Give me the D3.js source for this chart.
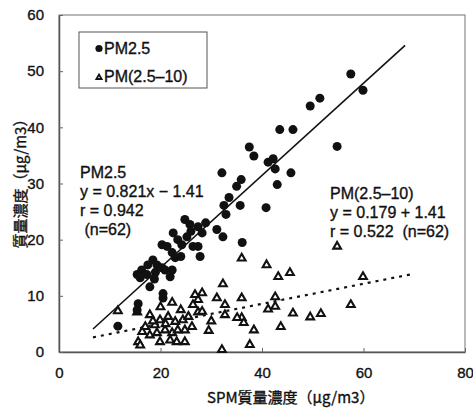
<!DOCTYPE html>
<html>
<head>
<meta charset="utf-8">
<script src="https://cdn.jsdelivr.net/npm/d3@7"></script>
<style>
  body { margin: 0; background: #fff; }
  svg text { font-family: "Liberation Sans", Arial, sans-serif; fill: #111; stroke: #111; stroke-width: 0.35px; }
</style>
</head>
<body>
<div id="chart"></div>
<script>
// PM2.5 vs SPM (x, y)
const pm25 = [
  [57.5, 49.5], [59.9, 46.6], [51.4, 45.2], [49.5, 43.8], [43.5, 39.6], [46.1, 39.6],
  [54.8, 36.6], [37.5, 36.5], [38.4, 34.9], [41.2, 33.8], [42.2, 34.4], [42.6, 32.6],
  [45.7, 31.9], [43.0, 29.8], [35.0, 29.5], [35.9, 30.7], [32.1, 31.9], [32.5, 26.1],
  [32.9, 24.5], [35.7, 26.1], [40.8, 25.7], [27.4, 22.3], [28.2, 21.2], [31.1, 21.8],
  [32.3, 20.5], [36.1, 19.5], [27.4, 18.8], [27.8, 17.0], [24.8, 23.6], [25.8, 22.7],
  [22.5, 21.2], [23.4, 20.0], [24.2, 19.1], [20.3, 19.1], [21.3, 18.8], [26.4, 18.8],
  [22.3, 17.7], [22.9, 16.8], [18.5, 16.4], [17.5, 15.5], [19.3, 15.5], [20.3, 15.0],
  [20.9, 14.6], [16.3, 14.6], [15.4, 13.8], [16.0, 13.2], [17.3, 13.8], [21.9, 13.4],
  [22.3, 14.6], [17.9, 11.6], [20.5, 10.4], [20.5, 9.6], [15.6, 8.6], [15.4, 7.5],
  [11.6, 4.6], [26.0, 21.5], [28.9, 23.0], [19.0, 14.2], [24.0, 17.0], [18.8, 13.0],
  [33.5, 27.5], [25.2, 20.5]
];

// PM(2.5-10) vs SPM (x, y)
const pmCoarse = [
  [54.8, 18.8], [36.0, 16.7], [40.9, 15.5], [43.2, 13.4], [45.5, 14.1], [59.9, 13.4],
  [36.0, 9.6], [42.6, 9.8], [42.6, 8.1], [41.2, 7.6], [46.1, 6.9], [49.5, 6.2],
  [51.6, 6.8], [57.5, 8.4], [36.0, 6.1], [36.4, 5.2], [38.4, 3.9], [43.7, 4.5],
  [37.6, 1.3], [32.1, 0.4], [32.3, 12.1], [28.2, 10.5], [31.1, 9.6], [32.7, 8.4],
  [27.4, 9.3], [27.4, 7.1], [28.2, 7.2], [32.7, 6.6], [35.1, 6.1], [11.6, 7.3],
  [15.4, 7.1], [22.3, 8.8], [26.8, 10.2], [26.4, 8.4], [17.9, 6.6], [19.9, 5.7],
  [21.5, 6.3], [22.9, 5.4], [24.4, 5.7], [26.2, 4.5], [18.9, 4.8], [16.4, 3.6],
  [17.9, 3.0], [19.3, 3.4], [20.9, 3.9], [22.3, 3.4], [23.4, 3.9], [24.8, 3.9],
  [15.6, 1.8], [16.0, 1.2], [19.9, 1.8], [21.9, 2.1], [23.2, 1.8], [24.8, 1.8],
  [21.0, 5.0], [25.5, 6.3], [30.0, 5.5], [20.0, 8.0], [24.0, 7.5], [18.5, 5.5],
  [29.5, 3.8], [17.0, 4.5]
];

// regression lines: [slope, intercept, xStart, xEnd]
const fitPm25 = [0.821, -1.41, 6.7, 68.2];
const fitCoarse = [0.179, 1.41, 6.7, 69.2];

const xTicks = [0, 20, 40, 60, 80];
const yTicks = [0, 10, 20, 30, 40, 50, 60];

const labelPm25 = ["PM2.5", "y = 0.821x \u2212 1.41", "r = 0.942", " (n=62)"];
const labelCoarse = ["PM(2.5\u201310)", "y = 0.179 + 1.41", "r = 0.522\u00a0\u00a0(n=62)"];
const legendNames = ["PM2.5", "PM(2.5\u201310)"];

const W = 473, H = 410;
const svg = d3.select("#chart").append("svg")
    .attr("width", W)
    .attr("height", H);

const x = d3.scaleLinear().domain([0, 80]).range([59, 465]);
const y = d3.scaleLinear().domain([0, 60]).range([352, 15]);

// frame
svg.append("rect")
    .attr("x", x(0)).attr("y", y(60))
    .attr("width", x(80) - x(0)).attr("height", y(0) - y(60))
    .attr("fill", "none")
    .attr("stroke", "#8a8a8a")
    .attr("stroke-width", 1.2);

const axisX = svg.append("g")
    .attr("transform", "translate(0," + y(0) + ")")
    .call(d3.axisBottom(x).tickValues(xTicks).tickSize(-4).tickPadding(15).tickSizeOuter(0));
const axisY = svg.append("g")
    .attr("transform", "translate(" + x(0) + ",0)")
    .call(d3.axisLeft(y).tickValues(yTicks).tickSize(-4).tickPadding(15).tickSizeOuter(0));

[axisX, axisY].forEach(a => {
    a.select(".domain").attr("stroke", "#555").attr("stroke-width", 1.5);
    a.selectAll("line").attr("stroke", "#666");
    a.selectAll("text")
        .style("font-size", "15px")
        .style("font-family", "'Liberation Sans', Arial, sans-serif")
        .attr("fill", "#111");
});

// regression lines
function fitLine(f) {
    return [[f[2], f[0] * f[2] + f[1]], [f[3], f[0] * f[3] + f[1]]];
}
const line = d3.line().x(d => x(d[0])).y(d => y(d[1]));

svg.append("path")
    .datum(fitLine(fitPm25))
    .attr("fill", "none")
    .attr("stroke", "#111")
    .attr("stroke-width", 1.6)
    .attr("d", line);

svg.append("path")
    .datum(fitLine(fitCoarse))
    .attr("fill", "none")
    .attr("stroke", "#111")
    .attr("stroke-width", 2.2)
    .attr("stroke-dasharray", "3,5")
    .attr("d", line);

// markers
const tri = d3.symbol().type(d3.symbolTriangle).size(26);
svg.append("g")
    .selectAll("path")
    .data(pmCoarse)
    .enter().append("path")
    .attr("transform", d => "translate(" + x(d[0]) + "," + y(d[1]) + ")")
    .attr("d", tri)
    .attr("fill", "#fff")
    .attr("stroke", "#111")
    .attr("stroke-width", 2.1);

svg.append("g")
    .selectAll("circle")
    .data(pm25)
    .enter().append("circle")
    .attr("cx", d => x(d[0]))
    .attr("cy", d => y(d[1]))
    .attr("r", 4.5)
    .attr("fill", "#111");

// legend
const lg = svg.append("g");
lg.append("rect")
    .attr("x", 79).attr("y", 32)
    .attr("width", 128).attr("height", 56)
    .attr("fill", "#fff")
    .attr("stroke", "#555")
    .attr("stroke-width", 1);
lg.append("circle").attr("cx", 99).attr("cy", 48.5).attr("r", 3.6).attr("fill", "#111");
lg.append("path")
    .attr("transform", "translate(99,77.5)")
    .attr("d", d3.symbol().type(d3.symbolTriangle).size(12))
    .attr("fill", "#fff")
    .attr("stroke", "#111")
    .attr("stroke-width", 1.8);
lg.selectAll("text")
    .data(legendNames)
    .enter().append("text")
    .attr("x", 104)
    .attr("y", (d, i) => 53.5 + i * 28.5)
    .style("font-size", "16px")
    .text(d => d);

// annotations
svg.append("g").selectAll("text")
    .data(labelPm25)
    .enter().append("text")
    .attr("x", 80)
    .attr("y", (d, i) => 178 + i * 19)
    .style("font-size", "16px")
    .attr("xml:space", "preserve")
    .text(d => d);

svg.append("g").selectAll("text")
    .data(labelCoarse)
    .enter().append("text")
    .attr("x", 330)
    .attr("y", (d, i) => 199 + i * 19)
    .style("font-size", "16px")
    .text(d => d);

// axis titles
svg.append("text")
    .attr("x", 207)
    .attr("y", 403)
    .style("font-size", "15px")
    .style("font-family", "'Noto Sans CJK JP', sans-serif")
    .text("SPM質量濃度（μg/m3）");

svg.append("text")
    .attr("transform", "translate(26,180) rotate(-90)")
    .attr("text-anchor", "middle")
    .style("font-size", "15px")
    .style("font-family", "'Noto Sans CJK JP', sans-serif")
    .text("質量濃度（μg/m3）");
</script>
</body>
</html>
